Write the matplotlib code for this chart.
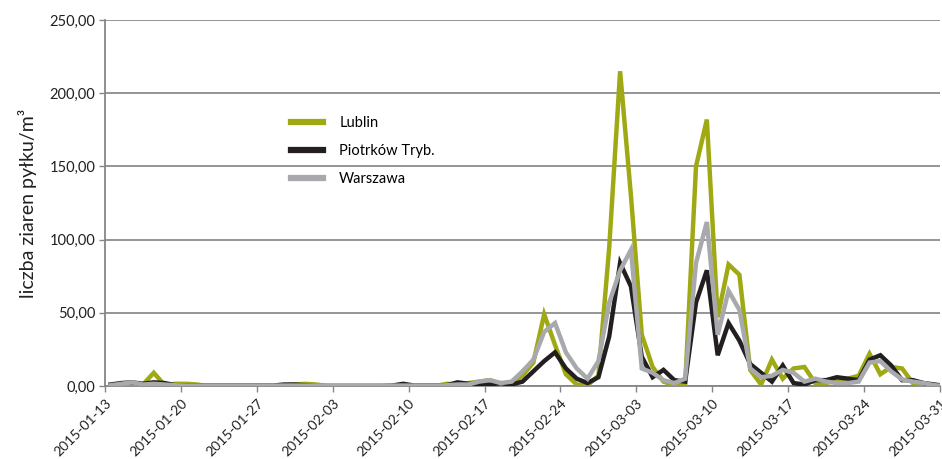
import numpy as np
import pandas as pd
import matplotlib
matplotlib.use('Agg')
import matplotlib.pyplot as plt

# daily pollen counts, 2015-01-13 .. 2015-03-31
dates = pd.date_range('2015-01-13', '2015-03-31', freq='D')

lublin = [0.5, 0.5, 1, 1, 9, 0.5, 1.5, 1.5, 1, 0,
          0, 0, 0, 0, 0, 0, 0.5, 1, 1.5, 1,
          0, 0, 0, 0, 0, 0, 0, 0, 0, 0,
          0, 1.5, 1, 2, 3, 4, 1.5, 2, 7, 16,
          49, 28, 8, 1, 0.5, 7, 95, 215, 130, 35,
          13, 3, 0.5, 0.5, 150, 182, 47, 83, 76, 11,
          1, 18, 5, 12, 13, 2, 2, 4, 5, 7,
          22, 8, 13, 12, 2, 1, 0.5, 0]

piotrkow = [1, 2, 2.5, 1.5, 2.5, 2, 0.5, 0.3, 0.3, 0.3,
            0.3, 0.3, 0.3, 0.3, 0.3, 0.3, 1, 1, 0.5, 0,
            0, 0, 0, 0, 0, 0, 0.3, 1.5, 0.3, 0.3,
            0.3, 0.5, 2.5, 1.5, 1.5, 1, 2, 1, 3, 10,
            17, 23, 12, 5, 2, 6, 34, 84, 68, 20,
            6, 11, 4, 3, 57, 79, 21, 43, 31, 15,
            9, 3, 14, 2, 1, 4, 4, 6, 5, 4,
            18, 21, 14, 4, 4, 2, 1, 0]

warszawa = [0.5, 1.5, 2.5, 1, 1.5, 1, 0.5, 0.3, 0.3, 0.3,
            0.3, 0.3, 0.3, 0.3, 0.3, 0.3, 0.3, 0.3, 0.3, 0.3,
            0.3, 0.3, 0.3, 0.3, 0.3, 0.3, 0.3, 0.3, 0.3, 0.3,
            0.3, 0.5, 1, 1, 3, 4, 2, 3, 10, 18,
            37, 43, 23, 12, 5, 17, 57, 79, 93, 12,
            9, 4, 2, 5, 84, 112, 35, 65, 52, 12,
            6, 7, 11, 9, 3, 5, 3, 2, 2, 3,
            16, 17, 10, 4.5, 3, 2, 0.5, 0]

series_names = ['Lublin', 'Piotrków Tryb.', 'Warszawa']
series_colors = ['#9fa914', '#231f20', '#a7a9ac']

plt.rcParams['font.family'] = ['Lato', 'DejaVu Sans']

fig = plt.figure(figsize=(9.42, 4.59), dpi=100)
ax = fig.add_axes([105 / 942, 1 - 386 / 459, 835 / 942, 366 / 459])

# categories sit between the weekly tick marks
x = np.arange(len(dates)) + 0.5
for vals, name, col in zip([lublin, piotrkow, warszawa], series_names, series_colors):
    ax.plot(x, vals, color=col, lw=3.2, label=name, solid_joinstyle='miter', zorder=3)

ax.set_xlim(0, len(dates) - 1)
ax.set_ylim(0, 250)

ticks = np.arange(0, len(dates), 7)
ax.set_xticks(ticks)
ax.set_xticklabels([dates[t].strftime('%Y-%m-%d') for t in ticks],
                   rotation=45, ha='right', rotation_mode='anchor', fontsize=10, color='#231f20')
ax.set_yticks(np.arange(0, 251, 50))
ax.set_yticklabels([f'{v:.2f}'.replace('.', ',') for v in np.arange(0, 251, 50)],
                   fontsize=10.5, color='#231f20')

ax.tick_params(axis='x', length=4, width=1, color='#868686', pad=4)
ax.tick_params(axis='y', length=4, width=1, color='#868686', pad=3)

ax.grid(axis='y', color='#8c8c8c', lw=1.3, zorder=0)
ax.set_axisbelow(True)
for s in ['top', 'right']:
    ax.spines[s].set_visible(False)
ax.spines['left'].set_color('#868686')
ax.spines['bottom'].set_color('#868686')
ax.spines['left'].set_linewidth(1.3)
ax.spines['bottom'].set_linewidth(1.3)

ax.set_ylabel('liczba ziaren pyłku/m³', fontsize=14, color='#231f20', labelpad=9)

leg = ax.legend(loc='upper left', bbox_to_anchor=(278 / 942, 1 - 103 / 459),
                bbox_transform=fig.transFigure, frameon=False, fontsize=10.5,
                handlelength=2.2, labelspacing=0.95, handletextpad=1.1)
for line in leg.get_lines():
    line.set_linewidth(4.5)

fig.savefig('out.png', dpi=100)
